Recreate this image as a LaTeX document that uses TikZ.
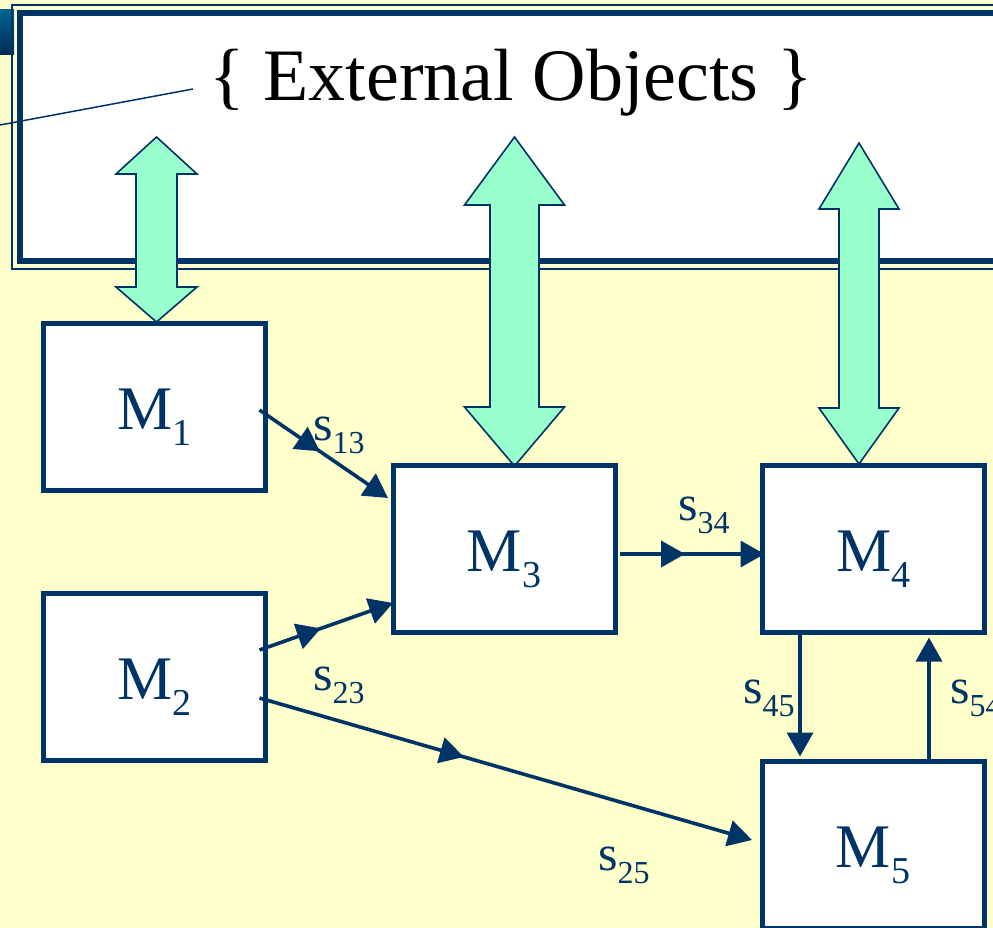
\documentclass[tikz,border=0pt]{standalone}
\usepackage{fontspec}
\setmainfont{Liberation Serif}
\usetikzlibrary{arrows.meta,decorations.markings,calc}
\definecolor{navy}{HTML}{003366}
\definecolor{mint}{HTML}{99FFCC}
\definecolor{paper}{HTML}{FFFFCC}
\newcommand\sgl[1]{s\raisebox{-13pt}{\fontsize{32}{32}\selectfont #1}}
\newcommand\mlab[1]{M\raisebox{-16pt}{\fontsize{38}{38}\selectfont #1}}
\newcommand\dblarrow[7]{% cx, top, headbase1, headbase2, bottom, head half, shaft half
  \filldraw[dbl] (#1,#2) -- ({#1+#6},#3) -- ({#1+#7},#3) -- ({#1+#7},#4) -- ({#1+#6},#4) -- (#1,#5)
    -- ({#1-#6},#4) -- ({#1-#7},#4) -- ({#1-#7},#3) -- ({#1-#6},#3) -- cycle;}
\begin{document}
\begin{tikzpicture}[x=1pt,y=-1pt,
  mbox/.style={draw=navy, line width=5pt, fill=white, minimum width=222pt, minimum height=167pt,
    inner sep=0pt, text height=44pt, text depth=0pt, font=\fontsize{62}{62}\selectfont, text=navy},
  conn/.style={navy, line width=3.6pt, -{Triangle[length=24pt,width=26pt]}},
  midtip/.style={postaction={decorate}, decoration={markings,
    mark=at position #1 with {\arrow[navy]{Triangle[length=24pt,width=26pt]}}}},
  dbl/.style={fill=mint, draw=navy, line width=1.6pt, line join=miter},
  slab/.style={anchor=base west, inner sep=0pt, text=navy, font=\fontsize{50}{50}\selectfont}
]
\clip (0,0) rectangle (993,928);
\fill[paper] (0,0) rectangle (993,928);
% title bar fragment
\shade[top color=black!10!blue!35!cyan!60!black, bottom color=navy!80!black] (0,10) rectangle (14,55);
% external objects frame
\draw[navy, line width=1.5pt] (12,5) rectangle (1020,269);
\filldraw[fill=white, draw=navy, line width=6pt] (20,13) rectangle (1015,261);
\node[anchor=base, inner sep=0pt, font=\fontsize{74}{74}\selectfont] (ext) at (511,101) {\{ External Objects \}};
\coordinate (lnA) at (0,125);
\coordinate (lnB) at (193,89);
\draw[navy, line width=1.5pt] (lnA) -- (lnB);
% double arrows
\dblarrow{156.5}{137}{174}{287}{322}{40.5}{20.5}
\dblarrow{514.5}{137}{205}{407}{466}{50}{24.5}
\dblarrow{859}{143}{209}{408}{464}{40}{20}
% modules
\node[mbox] (M1) at (154.5,407) {\mlab{1}};
\node[mbox] (M2) at (154.5,677) {\mlab{2}};
\node[mbox] (M3) at (504,549) {\mlab{3}};
\node[mbox] (M4) at (873.5,549) {\mlab{4}};
\node[mbox] (M5) at (873,845) {\mlab{5}};
% connectors
\draw[conn, midtip=0.47] ([shift={(-8.5,3)}]M1.east) -- ([shift={(-2.5,-51)}]M3.west);
\draw[conn, midtip=0.46] ([shift={(-8.5,-27)}]M2.east) -- ([shift={(2.5,54)}]M3.west);
\draw[conn, midtip=0.415] ([shift={(-8.5,21)}]M2.east) -- ([shift={(-7.5,-5)}]M5.west);
\draw[conn, midtip=0.45] ([shift={(2.5,5)}]M3.east) -- ([shift={(4.5,5)}]M4.west);
\draw[conn] ([shift={(-73.5,0)}]M4.south) -- ([shift={(-73,-2.5)}]M5.north);
\draw[conn] ([shift={(56,0)}]M5.north) -- ([shift={(55.5,2.5)}]M4.south);
% labels
\node[slab] (l13) at (313,440) {\sgl{13}};
\node[slab] (l23) at (313,690) {\sgl{23}};
\node[slab] (l34) at (678,520) {\sgl{34}};
\node[slab] (l45) at (743,703) {\sgl{45}};
\node[slab] (l54) at (950,703) {\sgl{54}};
\node[slab] (l25) at (598,870) {\sgl{25}};
\end{tikzpicture}
\end{document}
